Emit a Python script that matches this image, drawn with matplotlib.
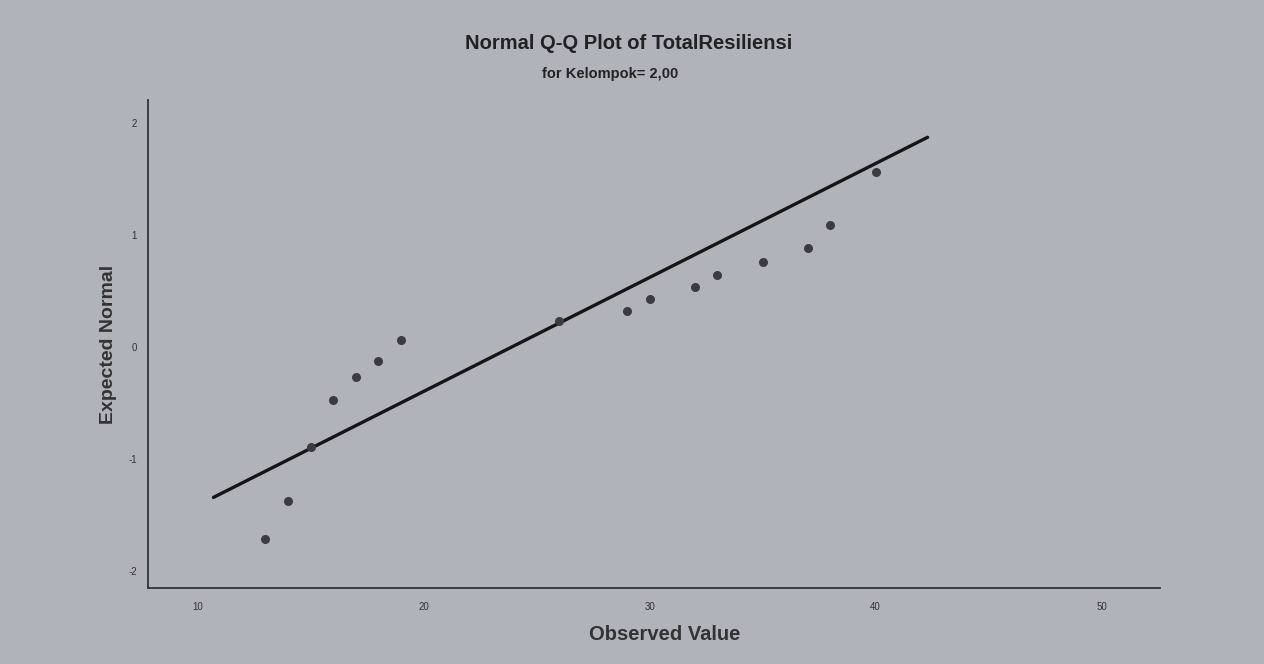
import matplotlib.pyplot as plt

observed = [13, 14, 15, 16, 17, 18, 19, 26, 29, 30, 32, 33, 35, 37, 38, 40]
expected = [-1.71, -1.37, -0.89, -0.47, -0.27, -0.125, 0.06, 0.23,
            0.32, 0.43, 0.54, 0.64, 0.76, 0.88, 1.09, 1.56]

# Reference line end points
line_x = [10.7, 42.3]
line_y = [-1.34, 1.87]

x_ticks = [10, 20, 30, 40, 50]
y_ticks = [-2, -1, 0, 1, 2]

bg = "#b1b3bb"
plt.rcParams["font.family"] = ["Liberation Sans", "DejaVu Sans"]
plt.rcParams["axes.unicode_minus"] = False

fig = plt.figure(figsize=(12.64, 6.64), dpi=100, facecolor=bg)
ax = fig.add_axes([0.117, 0.114, 0.801, 0.735], facecolor=bg)

ax.plot(line_x, line_y, color="#151515", lw=2.4, solid_capstyle="round")
ax.plot(observed, expected, "o", color="#3c3c40", markersize=6.5, markeredgewidth=0)

ax.set_xlim(7.8, 52.6)
ax.set_ylim(-2.15, 2.2)
ax.set_xticks(x_ticks)
ax.set_yticks(y_ticks)
ax.tick_params(length=0, labelsize=7, colors="#333333")
ax.tick_params(axis="x", pad=10)
ax.tick_params(axis="y", pad=8)

for side in ["top", "right"]:
    ax.spines[side].set_visible(False)
for side in ["left", "bottom"]:
    ax.spines[side].set_color("#333333")
    ax.spines[side].set_linewidth(1.3)

ax.set_xlabel("Observed Value", fontsize=14.5, fontweight="bold", color="#333333")
ax.set_ylabel("Expected Normal", fontsize=14, fontweight="bold", color="#333333", labelpad=8)
ax.xaxis.set_label_coords(0.51, -0.075)

fig.text(0.497, 0.935, "Normal Q-Q Plot of TotalResiliensi", ha="center", va="center",
         fontsize=14.5, fontweight="bold", color="#222222")
fig.text(0.483, 0.888, "for Kelompok= 2,00", ha="center", va="center",
         fontsize=10.5, fontweight="bold", color="#222222")

fig.savefig("out.png", dpi=100, facecolor=bg)
